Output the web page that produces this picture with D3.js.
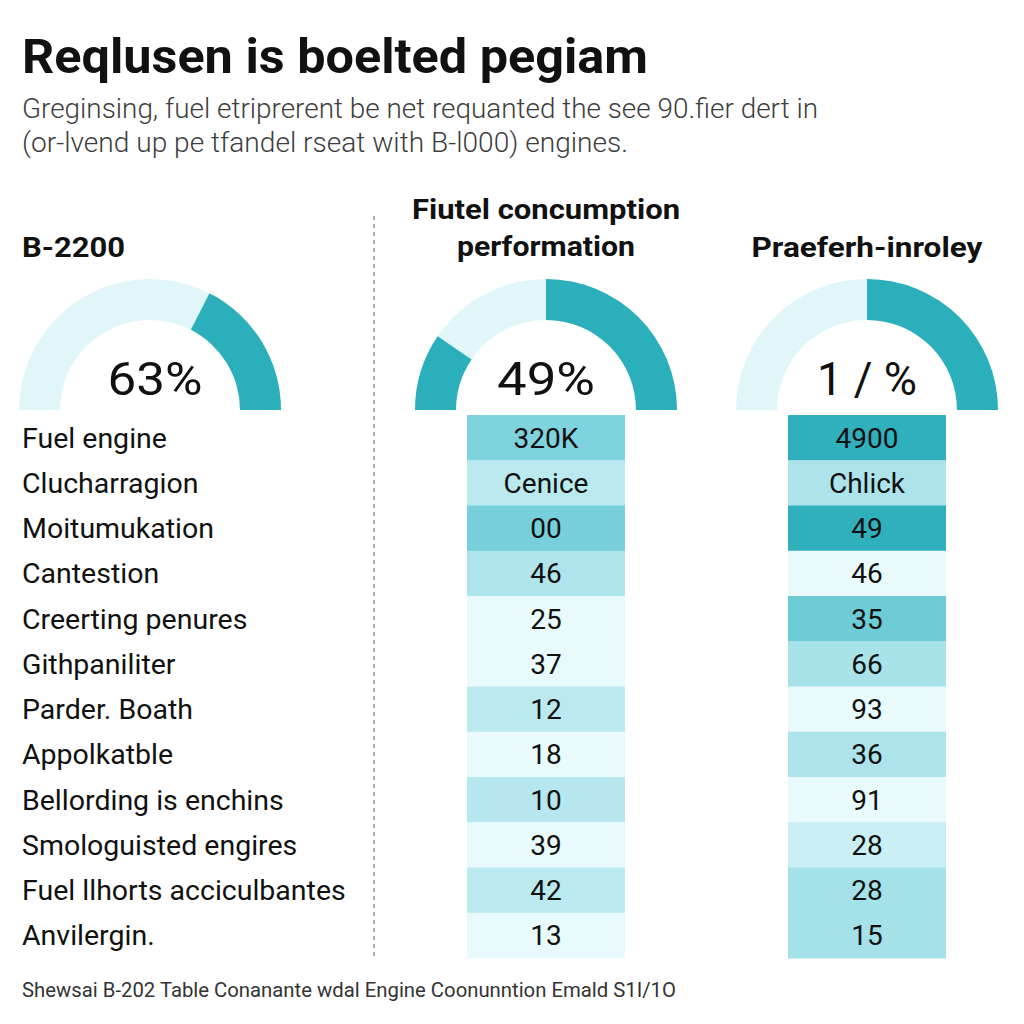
<!DOCTYPE html>
<html>
<head>
<meta charset="utf-8">
<script src="https://cdn.jsdelivr.net/npm/d3@7"></script>
<style>
  html, body { margin: 0; padding: 0; background: #ffffff; }
  svg { display: block; }
</style>
</head>
<body>
<svg id="chart" width="1024" height="1024"></svg>
<script>
// ---------- data ----------
const titleText = "Reqlusen is boelted pegiam";
const subtitleLines = [
  "Greginsing, fuel etriprerent be net requanted the see 90.fier dert in",
  "(or-lvend up pe tfandel rseat with B-l000) engines."
];
const footerText = "Shewsai B-202 Table Conanante wdal Engine Coonunntion Emald S1I/1O";

const gaugeTitles = [["B-2200"], ["Fiutel concumption", "performation"], ["Praeferh-inroley"]];
const gaugeLabels = ["63%", "49%", "1 / %"];
// filled (dark) ranges of each gauge, in percent of the half circle (0 = left end, 100 = right end)
const gaugeFilled = [[[65, 100]], [[0, 19], [50, 100]], [[50, 100]]];

const rowLabels = [
  "Fuel engine", "Clucharragion", "Moitumukation", "Cantestion", "Creerting penures",
  "Githpaniliter", "Parder. Boath", "Appolkatble", "Bellording is enchins",
  "Smologuisted engires", "Fuel llhorts acciculbantes", "Anvilergin."
];
const colBValues = ["320K", "Cenice", "00", "46", "25", "37", "12", "18", "10", "39", "42", "13"];
const colCValues = ["4900", "Chlick", "49", "46", "35", "66", "93", "36", "91", "28", "28", "15"];
// cell intensity (0 = palest, 1 = deepest)
const colBIntensity = [0.5, 0.22, 0.55, 0.27, 0.0, 0.0, 0.22, 0.0, 0.24, 0.0, 0.22, 0.0];
const colCIntensity = [0.95, 0.28, 0.95, 0.0, 0.6, 0.3, 0.0, 0.28, 0.0, 0.15, 0.32, 0.32];

// ---------- drawing ----------
const svg = d3.select("#chart");
const W = 1024, H = 1024;
svg.append("rect").attr("width", W).attr("height", H).attr("fill", "#ffffff");

const sans = "Roboto, 'Noto Sans', 'DejaVu Sans', sans-serif";

function fitText(sel, width) {
  sel.attr("textLength", width).attr("lengthAdjust", "spacingAndGlyphs");
}

// Title
svg.append("text").attr("x", 22).attr("y", 73)
  .attr("font-family", sans).attr("font-weight", 700).attr("font-size", 48)
  .attr("fill", "#111").text(titleText).call(fitText, 626);

// Subtitle
const subW = [796, 606];
subtitleLines.forEach((s, i) => {
  svg.append("text").attr("x", 22).attr("y", 118 + i * 34)
    .attr("font-family", sans).attr("font-weight", 300).attr("font-size", 27)
    .attr("fill", "#3d3d3d").text(s).call(fitText, subW[i]);
});

// columns
const colCenter = d3.scaleOrdinal().domain([0, 1, 2]).range([150, 546, 867]);
const cellW = 158;

// Dashed divider
svg.append("line").attr("x1", 374).attr("x2", 374).attr("y1", 216).attr("y2", 956)
  .attr("stroke", "#777").attr("stroke-width", 1.2).attr("stroke-dasharray", "4,4");

// Gauge headers
const headerW = [[103], [268, 178], [231]];
gaugeTitles.forEach((lines, gi) => {
  lines.forEach((ln, li) => {
    const baseY = lines.length === 1 ? 257 : 219 + li * 37;
    const t = svg.append("text")
      .attr("font-family", sans).attr("font-weight", 700).attr("font-size", 28)
      .attr("fill", "#111").attr("y", baseY).text(ln);
    if (gi === 0) {
      t.attr("x", 22);
    } else {
      t.attr("x", colCenter(gi)).attr("text-anchor", "middle");
    }
    t.call(fitText, headerW[gi][li]);
  });
});

// Gauges
const angle = d3.scaleLinear().domain([0, 100]).range([-Math.PI / 2, Math.PI / 2]);
const arc = d3.arc().innerRadius(90).outerRadius(131);
const gaugeCY = 410;
const pctW = [95, 98, 100];
gaugeLabels.forEach((lab, gi) => {
  const g = svg.append("g").attr("transform", `translate(${colCenter(gi)},${gaugeCY})`);
  g.append("path").attr("d", arc({ startAngle: angle(0), endAngle: angle(100) })).attr("fill", "#e0f6f9");
  gaugeFilled[gi].forEach(r => {
    g.append("path").attr("d", arc({ startAngle: angle(r[0]), endAngle: angle(r[1]) })).attr("fill", "#2aafbb");
  });
  g.append("text").attr("x", gi === 0 ? 5 : 0).attr("y", -15).attr("text-anchor", "middle")
    .attr("font-family", sans).attr("font-weight", 400).attr("font-size", 46)
    .attr("fill", "#111").text(lab).call(fitText, pctW[gi]);
});

// Table
const y = d3.scaleBand().domain(d3.range(rowLabels.length)).range([415, 958]).padding(0);
const shade = d3.scaleLinear().domain([0, 0.5, 1]).range(["#e8fafc", "#7fd3de", "#26acb8"]);

svg.append("g").selectAll("text").data(rowLabels).join("text")
  .attr("x", 22).attr("y", (d, i) => y(i) + y.bandwidth() / 2 + 10)
  .attr("font-family", sans).attr("font-size", 28.5).attr("fill", "#111").text(d => d);

function drawColumn(values, intens, ci) {
  const g = svg.append("g");
  const cx = colCenter(ci);
  g.selectAll("rect").data(values).join("rect")
    .attr("x", cx - cellW / 2).attr("width", cellW)
    .attr("y", (d, i) => y(i)).attr("height", y.bandwidth() + 0.5)
    .attr("fill", (d, i) => shade(intens[i]));
  g.selectAll("text").data(values).join("text")
    .attr("x", cx).attr("y", (d, i) => y(i) + y.bandwidth() / 2 + 10)
    .attr("text-anchor", "middle")
    .attr("font-family", sans).attr("font-size", 28).attr("fill", "#111").text(d => d);
}
drawColumn(colBValues, colBIntensity, 1);
drawColumn(colCValues, colCIntensity, 2);

// Footer
svg.append("text").attr("x", 22).attr("y", 997)
  .attr("font-family", sans).attr("font-size", 20).attr("fill", "#333")
  .text(footerText).call(fitText, 654);
</script>
</body>
</html>
